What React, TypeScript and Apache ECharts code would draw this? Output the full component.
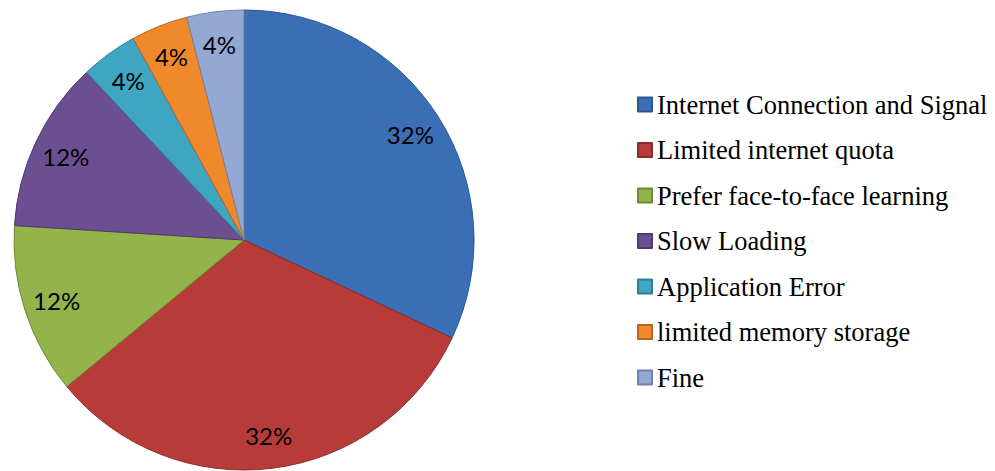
import React, { useEffect, useRef } from "react";
import * as echarts from "echarts";

const categories = [
  "Internet Connection and Signal",
  "Limited internet quota",
  "Prefer face-to-face learning",
  "Slow Loading",
  "Application Error",
  "limited memory storage",
  "Fine",
];
const values = [32, 32, 12, 12, 4, 4, 4];
const colors = ["#3A6EB5", "#B73C39", "#93B34B", "#6C4F91", "#3FA6C2", "#F0892B", "#93A8D3"];
const borders = ["#2B5690", "#8E2B29", "#6F8A33", "#503870", "#2C7F95", "#B8631A", "#6F82AA"];

export default function App() {
  const ref = useRef<HTMLDivElement>(null);
  useEffect(() => {
    if (!ref.current) return;
    const chart = echarts.init(ref.current, undefined, { renderer: "svg" });
    const data = categories.map((name, i) => ({
      name,
      value: values[i],
      itemStyle: { color: colors[i], borderColor: borders[i], borderWidth: 1 },
    }));
    const labelData = categories.map((name, i) => ({ name, value: values[i] }));
    chart.setOption({
      animation: false,
      backgroundColor: "#ffffff",
      legend: {
        orient: "vertical",
        left: 637,
        top: 91,
        padding: 0,
        icon: "rect",
        itemWidth: 14,
        itemHeight: 14,
        itemGap: 18.5,
        data: categories,
        selectedMode: false,
        textStyle: {
          fontFamily: "Liberation Serif",
          fontSize: 26.5,
          lineHeight: 26,
          color: "#000",
        },
      },
      series: [
        {
          type: "pie",
          center: [244, 240],
          radius: [0, 230],
          startAngle: 90,
          clockwise: true,
          label: { show: false },
          labelLine: { show: false },
          silent: true,
          data,
        },
        {
          type: "pie",
          center: [244, 240],
          radius: [158, 230],
          startAngle: 90,
          clockwise: true,
          silent: true,
          itemStyle: { color: "rgba(0,0,0,0)", borderWidth: 0 },
          label: {
            show: true,
            position: "inside",
            formatter: "{c}%",
            fontFamily: "Lato",
            fontSize: 24,
            color: "#000",
          },
          labelLine: { show: false },
          data: labelData,
        },
      ],
    });
    return () => chart.dispose();
  }, []);
  return (
    <div
      ref={ref}
      style={{ position: "fixed", left: 0, top: 0, width: 995, height: 471 }}
    />
  );
}
